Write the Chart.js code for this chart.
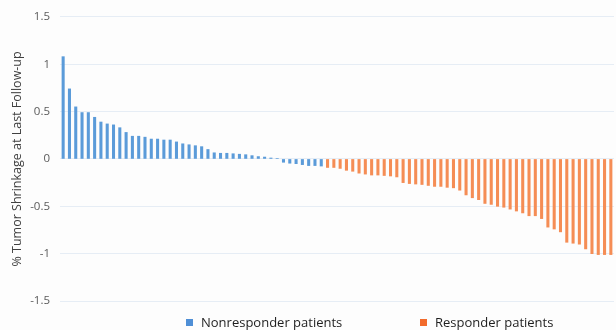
<!DOCTYPE html>
<html>
<head>
<meta charset="utf-8">
<script src="https://cdn.jsdelivr.net/npm/chart.js@4.4.1/dist/chart.umd.min.js"></script>
<style>
  html, body { margin: 0; padding: 0; background: #fdfdfd; }
  #wrap { position: relative; width: 616px; height: 330px; overflow: hidden; }
  canvas { position: absolute; left: 0; top: 0; }
  .leg { position: absolute; top: 314px; font-family: "Open Sans", sans-serif; font-size: 13px; color: #1e1e1e; white-space: nowrap; line-height: 16px; }
  .leg i { display: inline-block; width: 7px; height: 7px; margin-right: 8px; vertical-align: 1px; }
</style>
</head>
<body>
<div id="wrap">
  <canvas id="c" width="616" height="330"></canvas>
  <div class="leg" style="left:186px"><i style="background:#4f8fd6"></i>Nonresponder patients</div>
  <div class="leg" style="left:420px"><i style="background:#f26b2c"></i>Responder patients</div>
</div>
<script>
const nonresponderValues = [1.08, 0.74, 0.55, 0.49, 0.49, 0.44, 0.39, 0.37, 0.36, 0.33,
  0.28, 0.24, 0.24, 0.23, 0.21, 0.21, 0.20, 0.20, 0.18, 0.16,
  0.15, 0.14, 0.13, 0.10, 0.065, 0.06, 0.06, 0.055, 0.05, 0.045,
  0.035, 0.025, 0.02, 0.01, 0.005, -0.035, -0.045, -0.05, -0.06, -0.07,
  -0.07, -0.075];
const responderValues = [-0.09, -0.09, -0.10, -0.12, -0.13, -0.15, -0.16, -0.17, -0.17, -0.175,
  -0.18, -0.19, -0.25, -0.26, -0.265, -0.27, -0.28, -0.29, -0.29, -0.30,
  -0.305, -0.33, -0.38, -0.41, -0.43, -0.47, -0.48, -0.50, -0.51, -0.53,
  -0.55, -0.57, -0.60, -0.60, -0.63, -0.72, -0.74, -0.77, -0.88, -0.89,
  -0.90, -0.95, -1.00, -1.01, -1.01, -1.01];
const yTicks = [1.5, 1, 0.5, 0, -0.5, -1, -1.5];
const yTickLabels = ["1.5", "1", "0.5", "0", "-0.5", "-1", "-1.5"];
const seriesNames = ["Nonresponder patients", "Responder patients"];
const yTitle = "% Tumor Shrinkage at Last Follow-up";

const n1 = nonresponderValues.length, n2 = responderValues.length;
const patients = Array.from({length: n1 + n2}, (_, i) => String(i + 1));
const d1 = nonresponderValues.concat(Array(n2).fill(null));
const d2 = Array(n1).fill(null).concat(responderValues);

new Chart(document.getElementById('c'), {
  type: 'bar',
  data: {
    labels: patients,
    datasets: [
      { label: seriesNames[0], data: d1, backgroundColor: '#5b9bd9', grouped: false, barThickness: 2.4 },
      { label: seriesNames[1], data: d2, backgroundColor: '#f58d55', grouped: false, barThickness: 2.4 }
    ]
  },
  options: {
    responsive: false,
    animation: false,
    layout: { padding: { left: 10, right: 2, top: 10, bottom: 29 } },
    plugins: { legend: { display: false }, tooltip: { enabled: false } },
    scales: {
      x: { display: false, offset: true },
      y: {
        min: -1.5, max: 1.5,
        afterBuildTicks: s => { s.ticks = yTicks.map(v => ({ value: v })); },
        afterFit: s => { s.width = 50; },
        grid: { color: '#e6edf5', drawTicks: false, lineWidth: 1 },
        border: { display: false },
        ticks: {
          color: '#5a5a5a', font: { family: 'Open Sans', size: 11.5 }, padding: 10,
          callback: (v) => yTickLabels[yTicks.indexOf(v)]
        },
        title: { display: true, text: yTitle, color: '#404040', font: { family: 'Open Sans', size: 12.5 }, padding: { top: 0, bottom: 0 } }
      }
    }
  }
});
</script>
</body>
</html>
